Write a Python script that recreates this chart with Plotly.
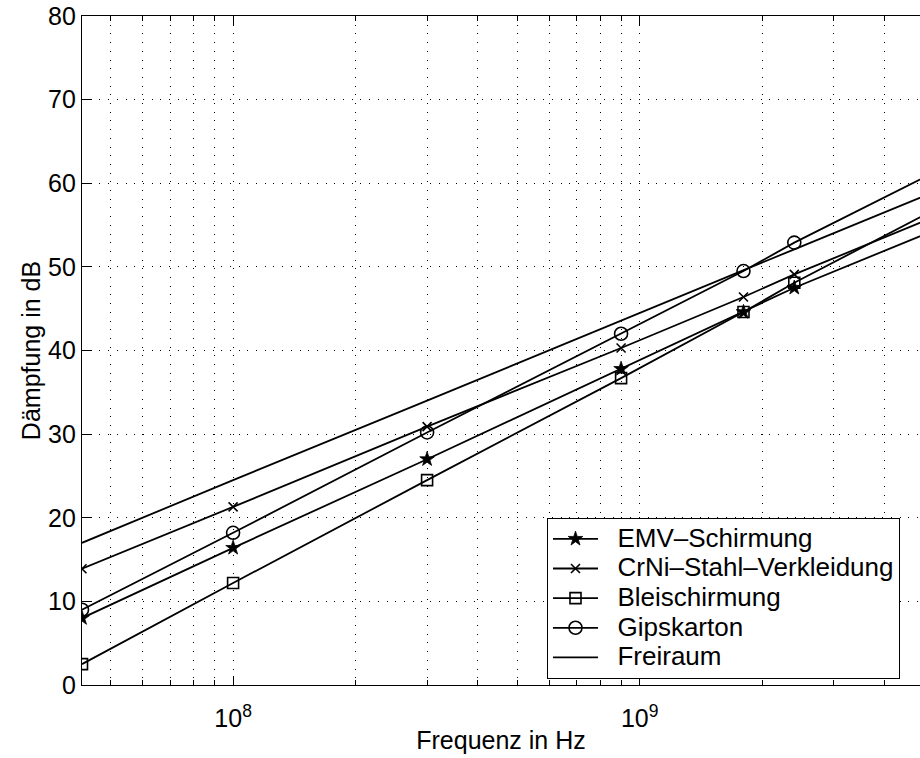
import math
import plotly.graph_objects as go

# Measurement frequencies in Hz (last point lies just beyond the visible axis end)
freq_hz = [42.5e6, 100e6, 300e6, 900e6, 1800e6, 2400e6, 5200e6]

# Attenuation in dB for each material
emv_schirmung = [8.0, 16.4, 27.0, 37.8, 44.6, 47.5, 54.2]
crni_stahl = [13.9, 21.3, 30.9, 40.3, 46.4, 49.1, 55.8]
bleischirmung = [2.5, 12.2, 24.5, 36.7, 44.6, 48.1, 56.6]
gipskarton = [9.0, 18.2, 30.2, 42.0, 49.5, 52.9, 61.1]
freiraum = [17.0, 24.5, 34.0, 43.6, 49.6, 52.1, 58.8]

series_names = ["EMV–Schirmung", "CrNi–Stahl–Verkleidung", "Bleischirmung",
                "Gipskarton", "Freiraum"]

y_ticks = [0, 10, 20, 30, 40, 50, 60, 70, 80]
x_major_ticks = [1e8, 1e9]
x_major_labels = ["10<sup>8</sup>", "10<sup>9</sup>"]
x_minor_ticks = [m * 10 ** e for e in (7, 8, 9) for m in range(2, 10)]

FONT = "Liberation Sans, Arial, Helvetica, sans-serif"
INK = "black"

fig = go.Figure()

styles = [
    dict(symbol="star", size=11, color=INK, line=dict(width=0.8, color=INK)),
    dict(symbol="x-thin-open", size=9, color=INK, line=dict(width=1.6, color=INK)),
    dict(symbol="square-open", size=11, color=INK, line=dict(width=1.6, color=INK)),
    dict(symbol="circle-open", size=13, color=INK, line=dict(width=1.6, color=INK)),
    None,
]
values = [emv_schirmung, crni_stahl, bleischirmung, gipskarton, freiraum]


def legend_label(text):
    # larger label text while keeping compact legend rows
    return f'<span style="font-size:26px">\u00a0\u00a0{text}</span>'


for name, ys, mk in zip(series_names, values, styles):
    if mk is None:
        fig.add_trace(go.Scatter(x=freq_hz, y=ys, name=legend_label(name), mode="lines",
                                 line=dict(color=INK, width=1.8)))
    else:
        fig.add_trace(go.Scatter(x=freq_hz, y=ys, name=legend_label(name),
                                 mode="lines+markers",
                                 line=dict(color=INK, width=1.8), marker=mk))

x_start = math.log10(42.5e6)
x_end = x_start + 838 / 406.6

grid_dash = "1px,7.7px"

fig.update_layout(
    width=920, height=758,
    margin=dict(l=82, r=0, t=16, b=73),
    paper_bgcolor="white", plot_bgcolor="white",
    font=dict(family=FONT, color=INK, size=25),
    showlegend=True,
    legend=dict(
        x=(547 - 82) / 838, y=(685 - 518) / 669,
        xanchor="left", yanchor="top",
        bgcolor="white", bordercolor=INK, borderwidth=1,
        font=dict(family=FONT, size=20.5, color=INK),
        itemwidth=45, tracegroupgap=0,
    ),
    xaxis=dict(
        type="log", range=[x_start, x_end],
        tickvals=x_major_ticks, ticktext=x_major_labels,
        ticks="inside", ticklen=9, tickwidth=1, tickcolor=INK,
        ticklabelstandoff=11,
        showline=True, linecolor=INK, linewidth=1.2, mirror="ticks",
        showgrid=True, gridcolor=INK, gridwidth=1, griddash=grid_dash,
        zeroline=False,
        tickfont=dict(family=FONT, size=25, color=INK),
        minor=dict(tickvals=x_minor_ticks, ticks="inside", ticklen=5,
                   tickcolor=INK, showgrid=True, gridcolor=INK,
                   gridwidth=1, griddash=grid_dash),
        title=dict(text="Frequenz in Hz", font=dict(family=FONT, size=25, color=INK),
                   standoff=0),
    ),
    yaxis=dict(
        range=[0, 80], tickvals=y_ticks,
        ticks="inside", ticklen=9, tickwidth=1, tickcolor=INK,
        showline=True, linecolor=INK, linewidth=1.2, mirror=False,
        showgrid=True, gridcolor=INK, gridwidth=1, griddash=grid_dash,
        zeroline=False,
        tickfont=dict(family=FONT, size=25, color=INK),
        title=dict(text="Dämpfung in dB", font=dict(family=FONT, size=25, color=INK),
                   standoff=0),
    ),
)

fig.write_html("out.html")
